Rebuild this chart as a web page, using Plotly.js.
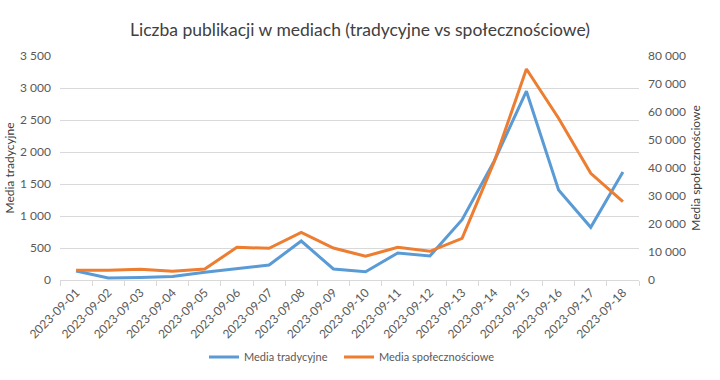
<!DOCTYPE html>
<html>
<head>
<meta charset="utf-8">
<script src="https://cdn.plot.ly/plotly-3.0.1.min.js"></script>
<style>html,body{margin:0;padding:0;background:#fff;}#chart{width:720px;height:380px;}</style>
</head>
<body>
<div id="chart"></div>
<script>
const dates = ["2023-09-01","2023-09-02","2023-09-03","2023-09-04","2023-09-05","2023-09-06","2023-09-07","2023-09-08","2023-09-09","2023-09-10","2023-09-11","2023-09-12","2023-09-13","2023-09-14","2023-09-15","2023-09-16","2023-09-17","2023-09-18"];
const mediaTradycyjne = [140, 30, 40, 55, 120, 172, 234, 609, 172, 130, 422, 375, 942, 1860, 2950, 1406, 823, 1688];
const mediaSpolecznosciowe = [3460, 3460, 3820, 3100, 3930, 11670, 11310, 17020, 11430, 8460, 11670, 10240, 14880, 42250, 75360, 57750, 38100, 27960];
const leftTicks = [0, 500, 1000, 1500, 2000, 2500, 3000, 3500];
const rightTicks = [0, 10000, 20000, 30000, 40000, 50000, 60000, 70000, 80000];

const font = "Lato, 'Liberation Sans', sans-serif";
const traces = [
  {x: dates, y: mediaTradycyjne, type: "scatter", mode: "lines", name: "Media tradycyjne",
   line: {color: "#5b9bd5", width: 3}, yaxis: "y", legend: "legend"},
  {x: dates, y: mediaSpolecznosciowe, type: "scatter", mode: "lines", name: "Media społecznościowe",
   line: {color: "#ed7d31", width: 3}, yaxis: "y2", legend: "legend2"}
];
const legendCommon = {orientation: "h", xanchor: "left", yref: "container", y: 0.0605, yanchor: "middle",
                      font: {size: 11, color: "#595959"}, bgcolor: "rgba(0,0,0,0)"};
const layout = {
  width: 720, height: 380,
  margin: {l: 60, r: 81, t: 56, b: 100},
  paper_bgcolor: "#fff", plot_bgcolor: "#fff",
  separators: ", ",
  font: {family: font, size: 12, color: "#595959"},
  title: {text: "Liczba publikacji w mediach (tradycyjne vs społecznościowe)",
          font: {family: font, size: 17.5, color: "#404040"}, x: 0.5, xanchor: "center", y: 0.922, yanchor: "middle"},
  xaxis: {type: "category", range: [-0.5, dates.length - 0.5], tickangle: -45, showgrid: false, showline: true, linecolor: "#d9d9d9", linewidth: 1,
          ticks: "outside", ticklen: 5, tickcolor: "#d9d9d9", tickson: "boundaries", automargin: false,
          tickfont: {size: 12, color: "#595959"}, zeroline: false},
  yaxis: {range: [0, 3500], tickvals: leftTicks, tickformat: ",d", separatethousands: true, automargin: false,
          showgrid: true, gridcolor: "#d9d9d9", gridwidth: 1, zeroline: false, showline: false,
          ticklabelstandoff: 8, tickfont: {size: 12, color: "#595959"},
          title: {text: "Media tradycyjne", font: {size: 12, color: "#404040"}, standoff: 2}},
  yaxis2: {range: [0, 80000], tickvals: rightTicks, tickformat: ",d", separatethousands: true, automargin: false,
           overlaying: "y", side: "right", showgrid: false, zeroline: false, showline: false,
           ticklabelstandoff: 8, tickfont: {size: 12, color: "#595959"},
           title: {text: "Media społecznościowe", font: {size: 12, color: "#404040"}, standoff: 6}},
  legend: Object.assign({}, legendCommon, {x: 0.2487}),
  legend2: Object.assign({}, legendCommon, {x: 0.4819}),
  showlegend: true
};
Plotly.newPlot("chart", traces, layout, {displayModeBar: false, staticPlot: true});
</script>
</body>
</html>
